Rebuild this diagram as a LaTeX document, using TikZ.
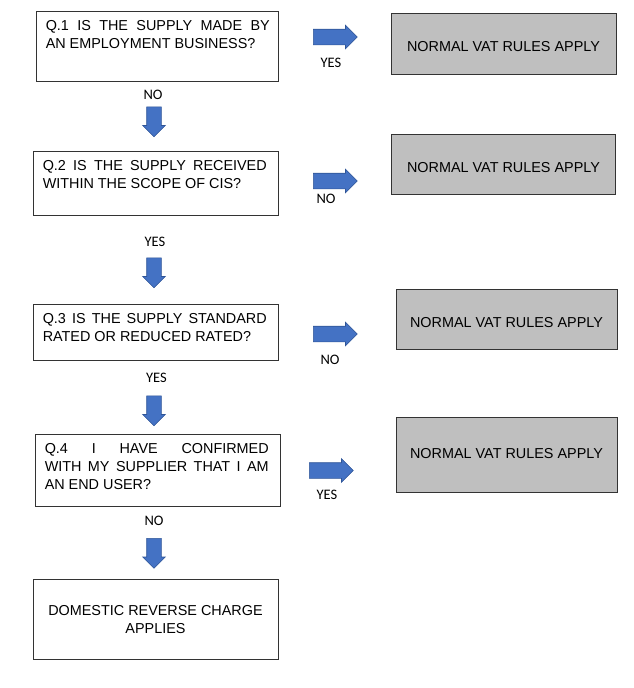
\documentclass[tikz,border=0pt]{standalone}
\usepackage{fontspec}
\setmainfont{Liberation Sans}
\newfontfamily\labelfont{Carlito}
\usepackage{tikz}
\usetikzlibrary{positioning,shapes.arrows}

\definecolor{arrowblue}{HTML}{4472C4}
\definecolor{arrowedge}{HTML}{2F5597}
\definecolor{rulegray}{HTML}{BFBFBF}
\definecolor{boxline}{HTML}{333333}

\begin{document}
\begin{tikzpicture}[
  x=1pt, y=-1pt,
  qbox/.style={rectangle, draw=boxline, line width=0.9pt, inner sep=0pt},
  qtext/.style={inner sep=0pt, text width=224pt, align=justify, font=\fontsize{14.4}{17.7}\selectfont},
  rulebox/.style={rectangle, draw=boxline, line width=0.9pt, fill=rulegray, align=center, text height=16.3pt, text depth=0pt, font=\fontsize{14.4}{17.7}\selectfont},
  endbox/.style={rectangle, draw=boxline, line width=0.9pt, align=center, font=\fontsize{14.4}{17.7}\selectfont},
  blockarrow/.style={single arrow, anchor=tail, draw=arrowedge, line width=0.6pt, fill=arrowblue, inner xsep=0pt, inner ysep=7.5pt, minimum width=23pt, minimum height=44pt, single arrow head extend=4pt, single arrow head indent=0pt},
  downarrow/.style={blockarrow, inner ysep=7pt, minimum width=22pt, minimum height=30pt, rotate=-90},
  answer/.style={inner sep=0pt, font=\labelfont\fontsize{14.5}{17}\selectfont}
]
  \useasboundingbox (0,0) rectangle (633,688);

  \node[qbox, minimum width=242pt, minimum height=70pt] (q1) at (157,46) {};
  \node[qtext, below right=10pt and 10pt of q1.north west] (q1txt) {Q.1 IS THE SUPPLY MADE BY\linebreak AN EMPLOYMENT BUSINESS?};
  \node[rulebox, minimum width=225pt, minimum height=60.5pt] (rule1) at (503.5,43.75) {NORMAL VAT RULES APPLY};
  \node[blockarrow] (yes1arr) at (313,37) {};
  \node[answer] (yes1) at (331,62.5) {YES};
  \node[answer] (no1) at (153,95) {NO};
  \node[downarrow] (no1arr) at (154,106.5) {};

  \node[qbox, minimum width=245pt, minimum height=64pt] (q2) at (155.5,183) {};
  \node[qtext, below right=10pt and 10pt of q2.north west] (q2txt) {Q.2 IS THE SUPPLY RECEIVED\linebreak WITHIN THE SCOPE OF CIS?};
  \node[rulebox, minimum width=224pt, minimum height=60pt] (rule2) at (503.5,164) {NORMAL VAT RULES APPLY};
  \node[blockarrow] (no2arr) at (313,181) {};
  \node[answer] (no2) at (326,199) {NO};
  \node[answer] (yes2) at (155,241.5) {YES};
  \node[downarrow] (yes2arr) at (154,257.5) {};

  \node[qbox, minimum width=245pt, minimum height=56.5pt] (q3) at (155.5,332.25) {};
  \node[qtext, below right=10pt and 10pt of q3.north west] (q3txt) {Q.3 IS THE SUPPLY STANDARD\linebreak RATED OR REDUCED RATED?};
  \node[rulebox, minimum width=221pt, minimum height=60pt] (rule3) at (506.5,319.5) {NORMAL VAT RULES APPLY};
  \node[blockarrow] (no3arr) at (313,334) {};
  \node[answer] (no3) at (330,360) {NO};
  \node[answer] (yes3) at (156.5,378) {YES};
  \node[downarrow] (yes3arr) at (154,395.5) {};

  \node[qbox, minimum width=245.5pt, minimum height=72pt] (q4) at (157.75,470) {};
  \node[qtext, below right=10pt and 10pt of q4.north west] (q4txt) {Q.4 I HAVE CONFIRMED\linebreak WITH MY SUPPLIER THAT I AM\linebreak AN END USER?};
  \node[rulebox, minimum width=221pt, minimum height=74.5pt, text height=10.3pt, text depth=3pt] (rule4) at (506.5,455) {NORMAL VAT RULES APPLY};
  \node[blockarrow] (yes4arr) at (309,470.5) {};
  \node[answer] (yes4) at (327,495) {YES};
  \node[answer] (no4) at (154,521) {NO};
  \node[downarrow] (no4arr) at (154,538) {};

  \node[endbox, minimum width=245pt, minimum height=80.5pt] (drc) at (155.5,619.25) {DOMESTIC REVERSE CHARGE\\APPLIES};
\end{tikzpicture}
\end{document}
